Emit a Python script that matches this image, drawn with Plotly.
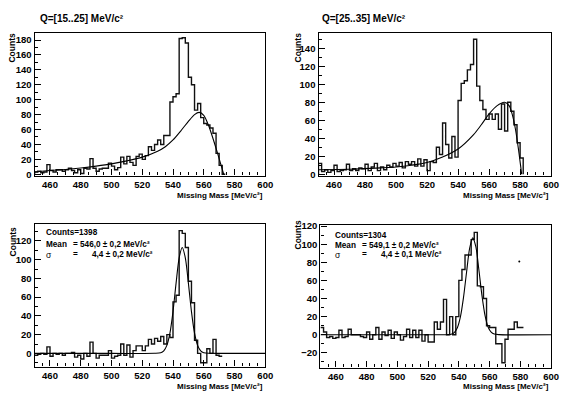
import plotly.graph_objects as go

# The page body keeps the browser's default 8 px margin, so the figure is drawn
# 8 px smaller and every reference pixel position is shifted by that offset.
W, H = 568, 396
OFF = 8
FW, FH = W - OFF, H - OFF
BIN_LO, BIN_W = 450, 2  # histogram binning [MeV/c^2]

# ---------------- data ----------------
counts_q15 = [3, 4, 2, 3, 13, 5, 3, 6, 6, 4, 6, 8, 5, 2, 6, 1, 8, 7, 21, 8,
              4, 7, 8, 8, 15, 11, 6, 9, 23, 14, 24, 16, 12, 24, 27, 20, 25, 37, 32, 40,
              46, 40, 52, 52, 97, 104, 108, 182, 183, 176, 130, 120, 86, 95, 76, 68, 66, 62, 55, 28,
              12, 0]
fit_q15_x = [450, 460, 470, 480, 490, 500, 510, 520, 530, 535, 540, 545, 550, 554, 557, 560, 563, 566, 569, 571, 573]
fit_q15_y = [3, 5, 6.5, 8.5, 11, 14, 18, 23, 31, 37, 46, 58, 71, 80, 83, 79, 66, 48, 28, 14, 0]

counts_q25 = [12, 3, 5, 2, 4, 10, 3, 4, 5, 11, 4, 6, 4, 7, 6, 11, 4, 8, 12, 4,
              8, 5, 10, 8, 12, 9, 13, 7, 14, 11, 14, 9, 17, 9, 16, 4, 14, 13, 30, 22,
              57, 33, 18, 42, 19, 82, 101, 104, 116, 122, 150, 98, 82, 72, 61, 67, 61, 67, 50, 78,
              48, 80, 70, 55, 35, 18]
fit_q25_x = [450, 470, 490, 500, 510, 520, 530, 540, 550, 555, 560, 565, 570, 573, 575, 577, 579, 581]
fit_q25_y = [5, 5.5, 7, 8, 10, 13, 19, 28, 44, 55, 67, 76, 80, 76, 66, 50, 27, 0]

sub_q15 = [-2, -1, 0, -1, 7, -3, 0, -1, 0, -2, 0, 0, 1, -4, -2, -6, 0, -3, 12, 0,
           -5, -2, -2, -2, 3, -5, -3, -2, 10, -2, 9, -4, 3, 8, 8, 3, 8, 15, 10, 16,
           13, 18, 10, 20, 17, 55, 62, 131, 128, 113, 77, 54, 14, 0, -10, -10, 5, 0, 15, -2,
           -3]
gaus_q15_x = [450, 500, 528, 532, 534, 536, 538, 540, 542, 544, 546, 548, 550, 552, 554, 556, 558, 560, 564, 570, 600]
gaus_q15_y = [0, 0, 0.1, 0.7, 2.8, 8.6, 21.6, 44.6, 75, 102, 113, 102, 75, 44.6, 21.6, 8.6, 2.8, 0.7, 0.1, 0, 0]

sub_q25 = [8, 3, -3, -2, -4, -3, 5, -3, -2, 6, 0, 0, 0, -2, -3, 3, -5, 0, 8, -5,
           3, -1, 5, -4, 3, 0, -6, -2, 6, -3, 5, -3, 5, -7, 0, -8, -8, 14, 6, 14,
           39, 0, 20, 0, 20, 60, 72, 88, 88, 105, 113, 54, 53, 40, 10, 8, 8, -10, -10, -31,
           -5, 6, 6, 14, 8, 8]
gaus_q25_x = [450, 500, 531, 533, 535, 537, 539, 541, 543, 545, 547, 549, 551, 553, 555, 557, 559, 561, 563, 566, 600]
gaus_q25_y = [0, 0, 0, 0.1, 0.6, 2.4, 7.7, 19.7, 41, 69, 95.5, 107, 97.5, 72, 43.5, 21.3, 8.5, 2.8, 0.7, 0.1, 0]
stray_x, stray_y = [579.3], [80.8]

panel_titles = ["Q=[15..25] MeV/c²", "Q=[25..35] MeV/c²"]
stats_counts = ["Counts=1398", "Counts=1304"]
stats_mean = ["= 546,0 ± 0,2 MeV/c²", "= 549,1 ± 0,2 MeV/c²"]
stats_sigma = ["4,4 ± 0,2 MeV/c²", "4,4 ± 0,1 MeV/c²"]
x_title = "Missing Mass [MeV/c²]"
y_title = "Counts"

# ---------------- layout helpers (reference pixels -> paper) ----------------
def px(xp):
    return (xp - OFF) / FW

def py(yp):
    return 1 - (yp - OFF) / FH

FONT = "Liberation Sans, Arial, Helvetica, sans-serif"

panels = [
    dict(x=(35, 269), y=(29, 175), yr=(-1.7, 190)),
    dict(x=(323, 559), y=(29, 175), yr=(-1.5, 157.5)),
    dict(x=(35, 269), y=(224, 370), yr=(-14, 138.5)),
    dict(x=(325, 559), y=(225, 371), yr=(-36.2, 121.7)),
]

def step_xy(vals):
    xs = [BIN_LO + BIN_W * i for i in range(len(vals) + 1)]
    ys = list(vals) + [vals[-1]]
    return xs, ys

fig = go.Figure()
hists = [counts_q15, counts_q25, sub_q15, sub_q25]
fits = [(fit_q15_x, fit_q15_y), (fit_q25_x, fit_q25_y), (gaus_q15_x, gaus_q15_y), (gaus_q25_x, gaus_q25_y)]

for i, (h, (fx, fy)) in enumerate(zip(hists, fits)):
    ax = "" if i == 0 else str(i + 1)
    hx, hy = step_xy(h)
    if i < 2:  # raw spectra are closed down to the baseline
        hx = [hx[0]] + hx + [hx[-1]]
        hy = [0] + hy + [0]
    fig.add_trace(go.Scatter(x=hx, y=hy, mode="lines", line=dict(color="#111111", width=1.4, shape="hv"),
                             xaxis="x" + ax, yaxis="y" + ax, showlegend=False, hoverinfo="skip"))
    fig.add_trace(go.Scatter(x=fx, y=fy, mode="lines", line=dict(color="black", width=1.1, shape="spline", smoothing=0.8),
                             xaxis="x" + ax, yaxis="y" + ax, showlegend=False, hoverinfo="skip"))

fig.add_trace(go.Scatter(x=stray_x, y=stray_y, mode="markers", marker=dict(color="black", size=2),
                         xaxis="x4", yaxis="y4", showlegend=False, hoverinfo="skip"))

layout = dict(width=FW, height=FH, autosize=False, margin=dict(l=0, r=0, t=0, b=0),
              paper_bgcolor="white", plot_bgcolor="white", showlegend=False)

tickfont = dict(family=FONT, size=9.5, color="black", weight="bold")
for i, p in enumerate(panels):
    ax = "" if i == 0 else str(i + 1)
    layout["xaxis" + ax] = dict(
        domain=[px(p["x"][0]), px(p["x"][1])], range=[450, 600], anchor="y" + ax,
        dtick=20, tick0=0, ticks="inside", ticklen=6, tickwidth=1, tickcolor="black",
        minor=dict(ticks="inside", ticklen=3, dtick=5, tickcolor="black", showgrid=False),
        showline=True, linecolor="black", linewidth=1.3, mirror=True,
        showgrid=False, zeroline=False, tickfont=tickfont)
    layout["yaxis" + ax] = dict(
        domain=[py(p["y"][1]), py(p["y"][0])], range=list(p["yr"]), anchor="x" + ax,
        dtick=20, tick0=0, ticks="inside", ticklen=6, tickwidth=1, tickcolor="black",
        minor=dict(ticks="inside", ticklen=3, dtick=10, tickcolor="black", showgrid=False),
        showline=True, linecolor="black", linewidth=1.3, mirror=True,
        showgrid=False, zeroline=False, tickfont=tickfont)

ann = []
def text(x, y, s, size=8.5, xa="left", ya="middle", angle=0, bold=True):
    ann.append(dict(x=px(x), y=py(y), xref="paper", yref="paper", text=s, showarrow=False,
                    xanchor=xa, yanchor=ya, textangle=angle,
                    font=dict(family=FONT, size=size, color="black", weight="bold" if bold else "normal")))

# panel titles
text(38, 15, panel_titles[0], size=10)
text(325, 15, panel_titles[1], size=10)
# axis titles
for (cx, ytop) in [(12, 27), (302, 27), (13, 225), (302, 218)]:
    text(cx, ytop, y_title, size=8.5, xa="center", ya="top", angle=-90)
for (rx, cy) in [(269, 195.5), (559, 195.5), (269, 390), (559, 390)]:
    text(rx, cy, x_title, size=8, xa="right")
# fit statistics
SF = 8.2
for k, (x0, yc, ym, ys) in enumerate([(45, 233.5, 245, 256), (338, 236.5, 246, 256)]):
    text(x0, yc, stats_counts[k], size=SF)
    text(x0, ym, "Mean", size=SF)
    text(x0 + 27, ym, stats_mean[k], size=SF)
    text(x0, ys, "σ", size=8.5, bold=False)
    text(x0 + 27, ys, "=", size=SF)
    text(x0 + 46, ys, stats_sigma[k], size=SF)

layout["annotations"] = ann
fig.update_layout(**layout)
fig.write_html("out.html")
